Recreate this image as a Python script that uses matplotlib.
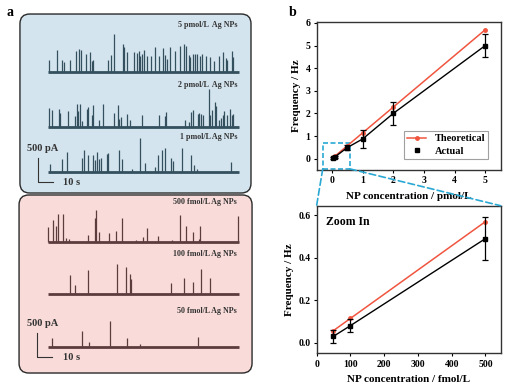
import matplotlib.pyplot as plt
from matplotlib.patches import FancyBboxPatch, Rectangle, ConnectionPatch

plt.rcParams['font.family'] = 'Liberation Serif'
plt.rcParams['font.weight'] = 'bold'
plt.rcParams['axes.labelweight'] = 'bold'

# ---- panel a: spike traces (time in s, spike height in pA) ----
t1 = [0.7, 5.8, 9.6, 10.9, 14.9, 18.4, 20.4, 21.8, 25.6, 28.0, 29.1, 30.2, 40.2, 41.8, 44.0,
      49.8, 50.9, 52.9, 57.1, 59.3, 60.4, 61.3, 62.7, 64.2, 65.8, 68.7, 71.3, 73.8, 76.4,
      78.2, 79.3, 81.3, 84.7, 88.0, 90.4, 92.0, 94.0, 94.9, 96.7, 98.2, 99.1, 101.1, 102.9,
      105.3, 108.2, 110.7, 114.2, 116.7, 118.7, 119.6, 122.4, 123.6]
h1 = [243, 451, 243, 201, 257, 430, 472, 458, 368, 409, 222, 257, 257, 361, 800,
      590, 520, 416, 416, 396, 430, 333, 375, 465, 326, 326, 527, 326, 500,
      361, 271, 520, 444, 548, 583, 534, 361, 312, 382, 382, 382, 326, 382,
      326, 305, 222, 326, 416, 291, 257, 444, 305]
t2 = [0.4, 2.4, 7.1, 8.2, 13.3, 17.8, 19.1, 20.0, 21.6, 22.9, 26.0, 26.9, 29.3, 30.2, 34.0,
      36.4, 44.0, 46.4, 47.6, 48.9, 52.9, 54.9, 62.9, 73.8, 78.2, 78.7, 91.6, 94.2, 95.6,
      96.4, 100.0, 100.9, 102.0, 103.6, 107.3, 108.2, 109.6, 111.1, 112.2, 114.2, 115.3,
      116.4, 117.6, 119.3, 121.3, 122.4, 123.6]
h2 = [403, 368, 389, 298, 333, 229, 493, 333, 493, 125, 389, 423, 264, 458, 146,
      486, 298, 458, 180, 208, 285, 160, 264, 264, 229, 312, 146, 104, 312,
      354, 278, 298, 285, 250, 792, 264, 354, 520, 437, 160, 194,
      264, 347, 264, 389, 264, 285]
t3 = [1.3, 9.3, 12.4, 22.4, 24.2, 26.9, 30.2, 31.6, 32.9, 34.0, 35.6, 39.1, 40.2, 47.6,
      49.1, 56.2, 61.3, 64.9, 71.3, 73.6, 75.8, 78.0, 82.0, 83.6, 89.1, 95.1, 97.1, 99.1, 122.0]
h3 = [174, 278, 416, 291, 451, 347, 361, 243, 416, 278, 291, 368, 403, 451,
      278, 69, 708, 187, 104, 347, 451, 507, 291, 222, 507, 361, 153, 69, 208]
t4 = [0.2, 3.6, 5.3, 6.9, 9.8, 11.8, 14.0, 26.9, 31.3, 32.0, 33.8, 40.9, 45.3, 49.1, 58.7,
      63.1, 66.2, 73.3, 82.9, 88.2, 92.0, 96.9, 100.7, 101.3, 126.4]
h4 = [326, 465, 347, 583, 583, 83, 62, 153, 500, 673, 208, 201, 243, 500, 49,
      118, 305, 132, 49, 569, 340, 208, 62, 340, 548]
t5 = [14.7, 17.8, 26.7, 46.2, 52.0, 54.7, 55.6, 81.8, 90.4, 96.7, 102.0, 108.0]
h5 = [403, 194, 507, 632, 562, 416, 312, 243, 347, 257, 527, 333]
t6 = [2.7, 22.4, 27.1, 41.3, 52.4, 61.3, 100.2]
h6 = [187, 347, 118, 548, 201, 62, 222]

trace_labels = ['5 pmol/L  Ag NPs', '2 pmol/L  Ag NPs', '1 pmol/L Ag NPs',
                '500 fmol/L Ag NPs', '100 fmol/L Ag NPs', '50 fmol/L Ag NPs']
trace_times = [t1, t2, t3, t4, t5, t6]
trace_heights = [h1, h2, h3, h4, h5, h6]

# ---- panel b data ----
conc_pmol = [0.05, 0.1, 0.5, 1, 2, 5]
theo_hz = [0.057, 0.114, 0.57, 1.14, 2.28, 5.7]
actual_hz = [0.03, 0.08, 0.49, 0.87, 2.0, 5.0]
actual_err = [0.03, 0.03, 0.1, 0.4, 0.5, 0.5]

conc_fmol = [50, 100, 500]
theo_zoom = [0.057, 0.114, 0.57]
actual_zoom = [0.03, 0.08, 0.49]
err_zoom = [0.03, 0.03, 0.1]

blue_bg, blue_tr = '#d3e4ee', '#34505e'
pink_bg, pink_tr = '#f9dcd9', '#5c3c3d'
red = '#f0553f'
cyan = '#2aa8d4'

fig = plt.figure(figsize=(5.09, 3.89), dpi=100)

# panel a axes: x in seconds, y in pA (1.5 px per s, 0.048 px per pA)
ax = fig.add_axes([0, 0, 260 / 509, 1])
ax.set_xlim(-32, 141.3)
ax.set_ylim(0, 8104)
ax.axis('off')

for (x0, y0, x1, y1), fc in [((-18.7, 4083, 135.3, 7812), blue_bg),
                             ((-19.3, 333, 136, 4042), pink_bg)]:
    ax.add_patch(FancyBboxPatch((x0, y0), x1 - x0, y1 - y0,
                                boxstyle='round,pad=0,rounding_size=6.5',
                                mutation_aspect=31.25, fc=fc, ec='#2a2a2a', lw=1.0))

offsets = [6604, 5452, 4521, 3056, 1973, 869]
label_y = [7583, 6333, 5250, 3902, 2812, 1631]
colors = [blue_tr] * 3 + [pink_tr] * 3
for times, heights, off, lab, ly, c in zip(trace_times, trace_heights, offsets,
                                           trace_labels, label_y, colors):
    ax.plot([0, 127], [off, off], color=c, lw=2.0, solid_capstyle='butt')
    ax.vlines(times, off, [off + h for h in heights], color=c, lw=0.9)
    ax.text(126, ly, lab, ha='right', va='center', fontsize=5.8, color='#333333')

# scale bars
for x0, y0, ty, sy in [(-6.7, 4312, 5000, 4292), (-7.3, 667, 1368, 652)]:
    ax.plot([x0, x0, x0 + 10], [y0 + 500, y0, y0], color='#333333', lw=0.8)
    ax.text(-14, ty, '500 pA', ha='left', va='center', fontsize=7.5, color='#333333')
    ax.text(10, sy, '10 s', ha='left', va='center', fontsize=7.5, color='#333333')

ax.text(-25.3, 7854, 'a', ha='center', va='center', fontsize=10)
fig.text(293 / 509, 1 - 12 / 389, 'b', ha='center', va='center', fontsize=10,
         fontweight='bold')

# ---- panel b top ----
axt = fig.add_axes([0.622, 0.563, 0.3615, 0.381])
axt.plot(conc_pmol, theo_hz, '-o', color=red, ms=2.5, lw=1.1, label='Theoretical')
axt.plot(conc_pmol, actual_hz, '-', color='black', lw=1.0)
axt.errorbar(conc_pmol, actual_hz, yerr=actual_err, fmt='none', ecolor='black',
             capsize=2, elinewidth=0.9, capthick=0.9)
axt.plot(conc_pmol, actual_hz, 's', color='black', ms=2.5, ls='none', label='Actual')
axt.set_xlim(-0.5, 5.5)
axt.set_ylim(-0.5, 6.05)
axt.set_xticks(range(6))
axt.set_yticks(range(7))
axt.set_xlabel('NP concentration / pmol/L', fontsize=8, labelpad=5)
axt.set_ylabel('Frequency / Hz', fontsize=8, labelpad=3)
axt.add_patch(Rectangle((-0.3, -0.45), 0.88, 1.15, fill=False, ec=cyan, lw=1.2,
                        ls=(0, (3, 1.5))))
leg = axt.legend(loc='lower right', fontsize=7.5, frameon=True, fancybox=False,
                 edgecolor='#888888', handlelength=1.8, borderpad=0.3,
                 labelspacing=0.3, bbox_to_anchor=(0.96, 0.04))
leg.get_frame().set_linewidth(0.8)

# ---- panel b bottom (zoom) ----
axb = fig.add_axes([0.622, 0.0918, 0.3615, 0.3794])
axb.plot(conc_fmol, theo_zoom, '-o', color=red, ms=2.5, lw=1.1)
axb.plot(conc_fmol, actual_zoom, '-', color='black', lw=1.0)
axb.errorbar(conc_fmol, actual_zoom, yerr=err_zoom, fmt='s', color='black', ms=2.5,
             capsize=2, elinewidth=0.9, capthick=0.9)
axb.set_xlim(0, 545)
axb.set_ylim(-0.05, 0.645)
axb.set_xticks(range(0, 501, 100))
axb.set_yticks([0.0, 0.2, 0.4, 0.6])
axb.set_yticklabels(['0.0', '0.2', '0.4', '0.6'])
axb.set_xlabel('NP concentration / fmol/L', fontsize=8, labelpad=5)
axb.set_ylabel('Frequency / Hz', fontsize=8, labelpad=3)
axb.text(0.05, 0.93, 'Zoom In', transform=axb.transAxes, ha='left', va='top', fontsize=8.5)

for a in (axt, axb):
    a.tick_params(direction='out', length=2.5, width=0.8, labelsize=7, pad=2)
    for s in a.spines.values():
        s.set_linewidth(1.0)
        s.set_color('#333333')

for xa, xb in [((-0.3, -0.45), (0, 1)), ((0.58, -0.45), (1, 1))]:
    con = ConnectionPatch(xyA=xa, coordsA=axt.transData, xyB=xb, coordsB=axb.transAxes,
                          color=cyan, lw=1.2, ls=(0, (4, 2)))
    fig.add_artist(con)

fig.savefig('out.png', dpi=100)
